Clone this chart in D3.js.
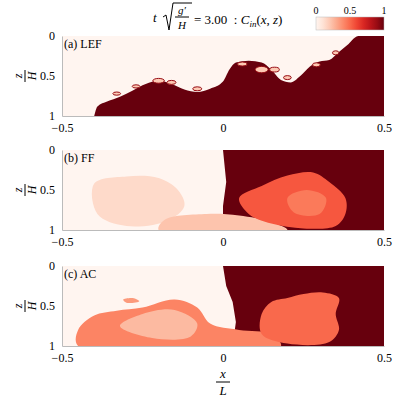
<!DOCTYPE html>
<html><head><meta charset="utf-8">
<script src="https://cdn.jsdelivr.net/npm/d3@7"></script>
<style>body{margin:0;background:#fff}</style>
</head><body><svg id="c" width="400" height="400"></svg>
<script>
const xTicks=[-0.5,0,0.5], zTicks=[0,0.5,1];
const panels=["(a) LEF","(b) FF","(c) AC"];
const bgValue=0.0;
const lefInterface=[[-0.40,1.0],[-0.39,0.88],[-0.36,0.82],[-0.32,0.76],[-0.28,0.68],[-0.24,0.6],[-0.2,0.56],[-0.16,0.6],[-0.12,0.67],[-0.08,0.7],[-0.04,0.66],[0.0,0.57],[0.02,0.42],[0.04,0.33],[0.08,0.31],[0.12,0.33],[0.15,0.42],[0.18,0.55],[0.21,0.58],[0.24,0.5],[0.27,0.38],[0.3,0.32],[0.33,0.3],[0.36,0.2],[0.39,0.1],[0.41,0.02],[0.42,0],[0.5,0]];
const lefBillows=[[-0.33,0.72,0.012,0.02],[-0.27,0.63,0.012,0.02],[-0.2,0.56,0.018,0.03],[-0.16,0.58,0.014,0.025],[-0.08,0.66,0.014,0.025],[0.06,0.35,0.015,0.025],[0.12,0.42,0.02,0.04],[0.16,0.42,0.015,0.03],[0.2,0.52,0.012,0.025],[0.29,0.36,0.012,0.025],[0.35,0.21,0.01,0.025]];
const ffRegions=[
 [1.0,[[0,0],[0.5,0],[0.5,1],[0,1],[0.0,0.7],[0.01,0.4]]],
 [0.14,[[-0.4,0.42],[-0.3,0.33],[-0.2,0.35],[-0.14,0.5],[-0.12,0.7],[-0.17,0.88],[-0.3,0.95],[-0.39,0.8]]],
 [0.22,[[-0.2,1],[-0.18,0.87],[-0.05,0.8],[0.05,0.82],[0.15,0.9],[0.2,1]]],
 [0.55,[[0.05,0.6],[0.12,0.45],[0.2,0.32],[0.28,0.28],[0.33,0.4],[0.38,0.6],[0.38,0.8],[0.35,0.95],[0.25,0.98],[0.15,0.92],[0.08,0.8]]],
 [0.45,[[0.2,0.6],[0.26,0.5],[0.32,0.6],[0.3,0.8],[0.22,0.78]]]
];
const acRegions=[
 [1.0,[[0,0],[0.5,0],[0.5,1],[0.03,1],[0.04,0.7],[0.03,0.45],[0.01,0.25]]],
 [0.42,[[-0.45,0.8],[-0.4,0.62],[-0.33,0.56],[-0.25,0.52],[-0.15,0.42],[-0.08,0.52],[-0.04,0.72],[0.05,0.8],[0.15,0.85],[0.18,1],[-0.45,1]]],
 [0.25,[[-0.32,0.75],[-0.25,0.6],[-0.15,0.55],[-0.08,0.72],[-0.1,0.88],[-0.22,0.9]]],
 [0.35,[[-0.31,0.42],[-0.28,0.4],[-0.26,0.44],[-0.3,0.46]]],
 [0.5,[[0.12,0.6],[0.15,0.45],[0.2,0.4],[0.25,0.35],[0.31,0.33],[0.36,0.4],[0.35,0.6],[0.36,0.8],[0.33,0.95],[0.2,0.97],[0.12,0.85]]]
];
const colorTicks=[0,0.5,1];
const svg=d3.select("#c");
const color=d3.scaleSequential(d3.interpolateReds).domain([0,1]);
const x=d3.scaleLinear().domain([-0.5,0.5]).range([62,384]);
const tops=[36,150,266], h=80;
tops.forEach((top,i)=>{
  const z=d3.scaleLinear().domain([0,1]).range([top,top+h]);
  const g=svg.append("g");
  const cp="cp"+i;
  g.append("clipPath").attr("id",cp).append("rect").attr("x",x(-0.5)).attr("y",top).attr("width",x(0.5)-x(-0.5)).attr("height",h);
  const body=g.append("g").attr("clip-path",`url(#${cp})`);
  body.append("rect").attr("x",x(-0.5)).attr("y",top).attr("width",x(0.5)-x(-0.5)).attr("height",h).attr("fill",color(bgValue));
  const line=d3.line().x(d=>x(d[0])).y(d=>z(d[1]));
  if(i===0){
    body.append("path").attr("d",d3.area().x(d=>x(d[0])).y0(z(1)).y1(d=>z(d[1])).curve(d3.curveMonotoneX)(lefInterface)).attr("fill",color(1));
    lefBillows.forEach(b=>{
      body.append("ellipse").attr("cx",x(b[0])).attr("cy",z(b[1])).attr("rx",x(b[2])-x(0)).attr("ry",z(b[3])-z(0)).attr("fill",color(0.2)).attr("stroke",color(0.9)).attr("stroke-width",1);
    });
  } else {
    (i===1?ffRegions:acRegions).forEach(r=>{
      body.append("path").attr("d",line.curve(r[0]===1?d3.curveLinear:d3.curveCatmullRomClosed)(r[1])+(r[0]===1?"Z":"")).attr("fill",color(r[0]));
    });
  }
  g.append("text").attr("x",x(-0.5)+2).attr("y",top+12).attr("font-size",12).text(panels[i]);
  const ax=d3.axisLeft(z).tickValues(zTicks).tickFormat(d3.format("")).tickSize(0).tickPadding(7);
  const ga=g.append("g").attr("transform",`translate(${x(-0.5)},0)`).call(ax);
  ga.select(".domain").attr("stroke","#bbb");
  ga.selectAll("text").attr("font-size",12);
  const bx=d3.axisBottom(x).tickValues(xTicks).tickFormat(d3.format("")).tickSize(0).tickPadding(7);
  const gb=g.append("g").attr("transform",`translate(0,${top+h})`).call(bx);
  gb.select(".domain").attr("stroke","#bbb");
  gb.selectAll("text").attr("font-size",12);
  const lab=g.append("g").attr("transform",`translate(25,${top+h/2}) rotate(-90)`);
  lab.append("text").attr("text-anchor","middle").attr("y",-3).attr("font-size",12).attr("font-style","italic").text("z");
  lab.append("line").attr("x1",-6).attr("x2",6).attr("y1",0).attr("y2",0).attr("stroke","#000");
  lab.append("text").attr("text-anchor","middle").attr("y",11).attr("font-size",12).attr("font-style","italic").text("H");
});
svg.append("text").attr("x",223).attr("y",378).attr("text-anchor","middle").attr("font-size",13).attr("font-style","italic").text("x");
svg.append("line").attr("x1",216).attr("x2",230).attr("y1",382).attr("y2",382).attr("stroke","#000");
svg.append("text").attr("x",223).attr("y",395).attr("text-anchor","middle").attr("font-size",13).attr("font-style","italic").text("L");
const t=svg.append("g");
t.append("text").attr("x",153).attr("y",22).attr("font-size",13).attr("font-style","italic").text("t");
t.append("path").attr("d","M163,17 L166,15 L169,30 L173,3 L192,3").attr("fill","none").attr("stroke","#000").attr("stroke-width",1);
t.append("text").attr("x",182).attr("y",14).attr("text-anchor","middle").attr("font-size",11).attr("font-style","italic").text("g′");
t.append("line").attr("x1",175).attr("x2",189).attr("y1",17).attr("y2",17).attr("stroke","#000");
t.append("text").attr("x",182).attr("y",29).attr("text-anchor","middle").attr("font-size",11).attr("font-style","italic").text("H");
t.append("text").attr("x",194).attr("y",24).attr("font-size",13).html("= 3.00 &#160;: <tspan font-style='italic'>C</tspan><tspan font-style='italic' font-size='9' dy='3'>in</tspan><tspan dy='-3'>(</tspan><tspan font-style='italic'>x</tspan>, <tspan font-style='italic'>z</tspan>)");
const cb=d3.scaleLinear().domain([0,1]).range([316,384]);
const grad=svg.append("defs").append("linearGradient").attr("id","gr");
d3.range(0,1.01,0.1).forEach(v=>grad.append("stop").attr("offset",v).attr("stop-color",color(v)));
svg.append("rect").attr("x",cb(0)).attr("y",17).attr("width",cb(1)-cb(0)).attr("height",13).attr("fill","url(#gr)").attr("stroke","#bbb").attr("stroke-width",0.5);
colorTicks.forEach(v=>svg.append("text").attr("x",cb(v)).attr("y",14).attr("text-anchor","middle").attr("font-size",10).text(v));
svg.selectAll("text").style("font-family","'Liberation Serif', 'DejaVu Serif', serif");
</script></body></html>
